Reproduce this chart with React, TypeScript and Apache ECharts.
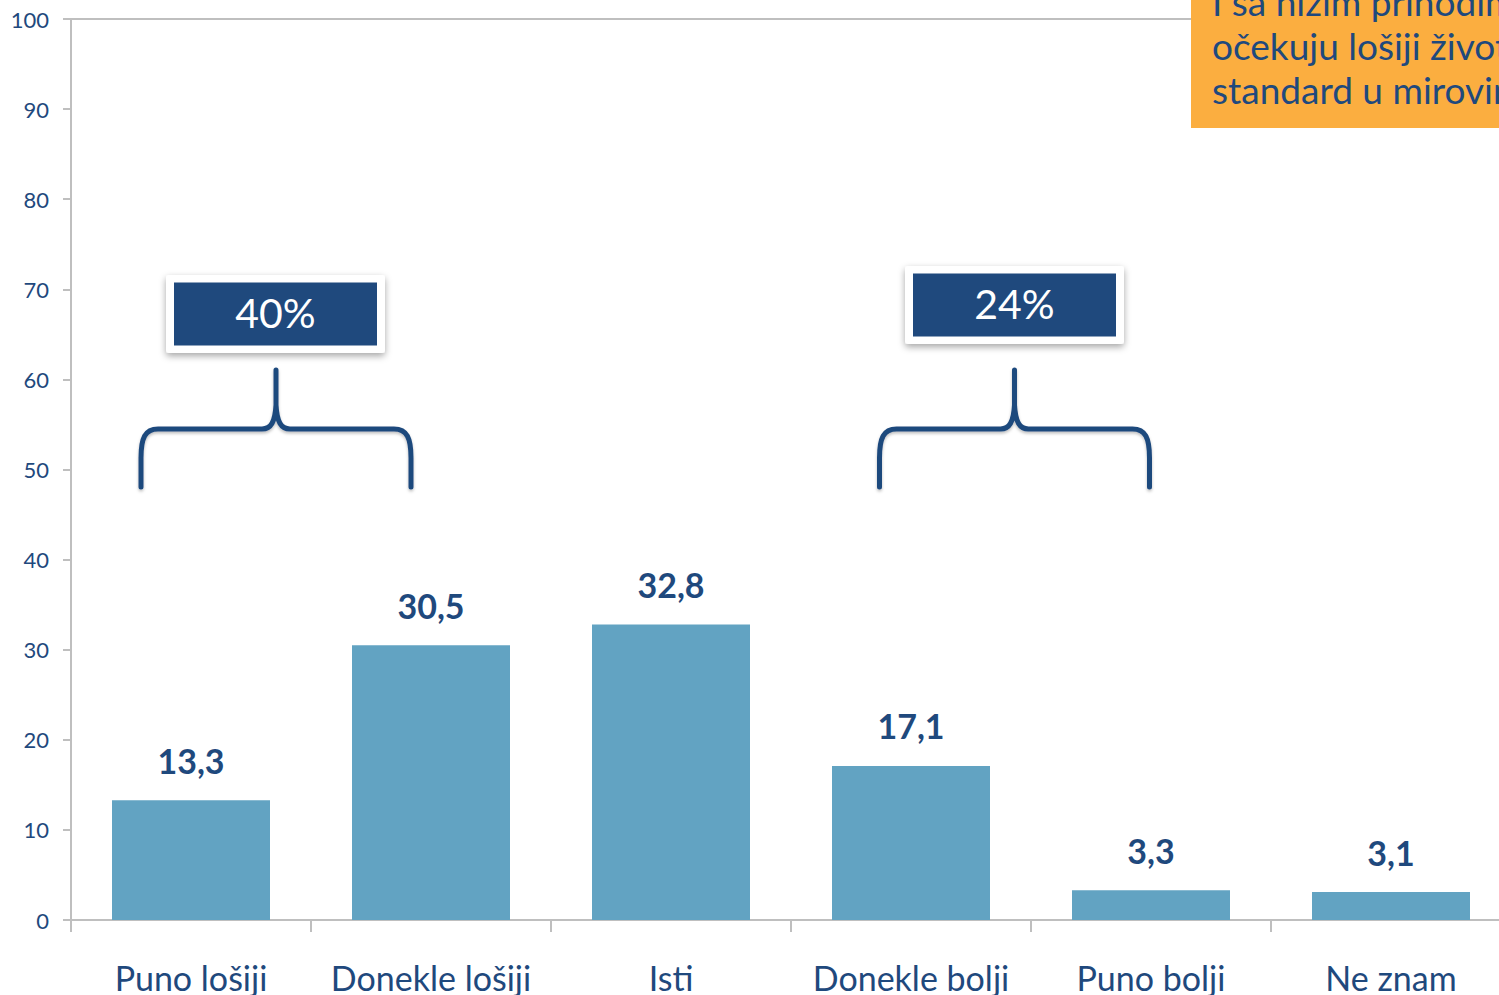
import React, { useEffect, useRef } from "react";
import * as echarts from "echarts";

const categories = ["Puno lošiji", "Donekle lošiji", "Isti", "Donekle bolji", "Puno bolji", "Ne znam"];
const values = [13.3, 30.5, 32.8, 17.1, 3.3, 3.1];
const groupLabels = ["40%", "24%"];
const noteLines = ["I sa nižim prihodima", "očekuju lošiji životni", "standard u mirovini"];

const DARK = "#1f497d";
const BAR = "#62a3c2";
const AXIS = "#bfbfbf";
const FONT = "Lato";

const braceD =
  "M -135 117 L -135 88 C -135 68 -131 59 -118 59 L -14 59 C -5 59 -1 52 0 35 L 0 0 M 135 117 L 135 88 C 135 68 131 59 118 59 L 14 59 C 5 59 1 52 0 35";

echarts.graphic.registerShape("brace", echarts.graphic.extendPath(braceD, {}) as any);

function labelBox(cx: number, cy: number, text: string) {
  return [
    {
      type: "rect",
      shape: { x: cx - 109.5, y: cy - 39, width: 219, height: 78, r: 3 },
      style: { fill: "#ffffff", shadowBlur: 7, shadowColor: "rgba(0,0,0,0.35)", shadowOffsetY: 3 },
      z: 10,
    },
    {
      type: "rect",
      shape: { x: cx - 101.5, y: cy - 31.5, width: 203, height: 63 },
      style: { fill: DARK },
      z: 11,
    },
    {
      type: "text",
      x: cx,
      y: cy - 2,
      style: { text, fill: "#ffffff", font: `400 41px ${FONT}`, align: "center", verticalAlign: "middle" },
      z: 12,
    },
  ];
}

export default function App() {
  const ref = useRef<HTMLDivElement>(null);
  useEffect(() => {
    document.body.style.margin = "0";
    document.body.style.overflow = "hidden";
    const chart = echarts.init(ref.current!, undefined, { renderer: "svg" });
    chart.setOption({
      animation: false,
      backgroundColor: "#ffffff",
      grid: { left: 71, top: 19, bottom: 75, right: 0, containLabel: false },
      xAxis: {
        type: "category",
        data: categories,
        axisLine: { lineStyle: { color: AXIS, width: 2 } },
        axisTick: { show: true, length: 12, lineStyle: { color: AXIS, width: 2 } },
        axisLabel: { color: DARK, fontFamily: FONT, fontSize: 34, margin: 40, interval: 0 },
      },
      yAxis: {
        type: "value",
        min: 0,
        max: 100,
        interval: 10,
        axisLine: { show: true, lineStyle: { color: AXIS, width: 2 } },
        axisTick: { show: true, length: 8, lineStyle: { color: AXIS, width: 2 } },
        splitLine: { show: false },
        axisLabel: { color: DARK, fontFamily: FONT, fontSize: 22, margin: 22 },
      },
      series: [
        {
          type: "bar",
          data: values,
          barWidth: 158,
          itemStyle: { color: BAR },
          label: {
            show: true,
            position: "top",
            distance: 23,
            color: DARK,
            fontFamily: FONT,
            fontWeight: "bold",
            fontSize: 34,
            formatter: (p: any) => String(p.value).replace(".", ","),
          },
          markLine: {
            silent: true,
            symbol: "none",
            label: { show: false },
            lineStyle: { color: AXIS, width: 2, type: "solid" },
            data: [{ yAxis: 100 }],
          },
        },
      ],
      graphic: [
        {
          type: "brace",
          x: 276,
          y: 370,
          style: { stroke: DARK, lineWidth: 5, fill: "none", lineCap: "round", shadowBlur: 3, shadowColor: "rgba(0,0,0,0.25)", shadowOffsetY: 2 },
          z: 10,
        },
        {
          type: "brace",
          x: 1014.5,
          y: 370,
          style: { stroke: DARK, lineWidth: 5, fill: "none", lineCap: "round", shadowBlur: 3, shadowColor: "rgba(0,0,0,0.25)", shadowOffsetY: 2 },
          z: 10,
        },
        ...labelBox(275.5, 314, groupLabels[0]),
        ...labelBox(1014.5, 305, groupLabels[1]),
        {
          type: "rect",
          shape: { x: 1191, y: -10, width: 400, height: 138 },
          style: { fill: "#fbae40" },
          z: 20,
        },
        ...noteLines.map((t, i) => ({
          type: "text",
          x: 1212,
          y: 1 + i * 44,
          style: { text: t, fill: DARK, font: `400 37px ${FONT}`, align: "left", verticalAlign: "middle" },
          z: 21,
        })),
      ],
    });
    return () => chart.dispose();
  }, []);
  return <div ref={ref} style={{ width: 1511, height: 995 }} />;
}
